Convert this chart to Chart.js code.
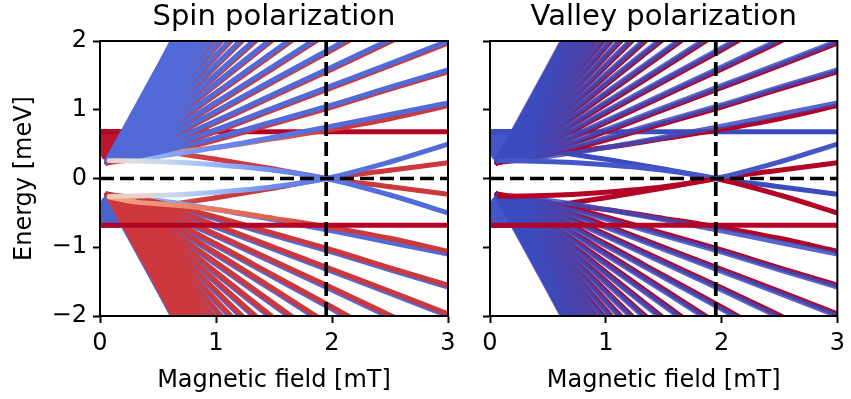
<!DOCTYPE html>
<html><head><meta charset="utf-8">
<script src="https://cdn.jsdelivr.net/npm/chart.js@4.4.1/dist/chart.umd.min.js"></script>
<style>
html,body{margin:0;padding:0;background:#fff;width:851px;height:399px;overflow:hidden}
#wrap{position:relative;width:851px;height:399px}
canvas{position:absolute;top:0}
#cL{left:0}
#cR{left:470px}
</style></head><body>
<div id="wrap"><canvas id="cL" width="470" height="399"></canvas><canvas id="cR" width="381" height="399"></canvas></div>
<script>
// ---------------- DATA ----------------
const panelTitles = ['Spin polarization', 'Valley polarization'];
const xLabel = 'Magnetic field [mT]';
const yLabel = 'Energy [meV]';
const xRange = [0, 3];
const yRange = [-2, 2];

// Landau-fan levels: |E| (meV) sampled at fanB (mT); mirrored branch drawn on a reversed axis
const fanB = [0.06, 0.25, 0.5, 1.0, 1.5, 2.0, 2.5, 3.0];
const fanLevels = [
  [0.26, 0.28, 0.32, 0.45, 0.60, 0.76, 0.93, 1.10],
  [0.26, 0.30, 0.38, 0.59, 0.83, 1.07, 1.33, 1.58],
  [0.26, 0.32, 0.43, 0.71, 1.03, 1.35, 1.67, 2.00],
  [0.26, 0.34, 0.48, 0.84, 1.23, 1.62, 2.02, 2.42],
  [0.26, 0.36, 0.54, 0.98, 1.44, 1.90, 2.37],
  [0.26, 0.38, 0.60, 1.11, 1.64, 2.18],
  [0.26, 0.41, 0.67, 1.25, 1.85, 2.46],
  [0.26, 0.43, 0.73, 1.39, 2.06],
  [0.26, 0.46, 0.80, 1.52, 2.27],
  [0.26, 0.49, 0.86, 1.66, 2.48],
  [0.26, 0.52, 0.93, 1.80, 2.68],
  [0.26, 0.55, 1.00, 1.94, 2.89],
  [0.26, 0.58, 1.07, 2.08],
  [0.26, 0.61, 1.13, 2.22],
  [0.26, 0.64, 1.20, 2.36],
  [0.26, 0.68, 1.27, 2.50],
  [0.26, 0.71, 1.34, 2.63],
  [0.26, 0.74, 1.41, 2.77],
  [0.26, 0.77, 1.48, 2.91],
  [0.26, 0.81, 1.54, 3.05],
  [0.26, 0.84, 1.61, 3.19]
];

// special levels near zero energy
const specB = [0.08, 0.3, 0.6, 1.0, 1.5, 1.95, 2.5, 3.0];
const straightB = [0.3, 0.6, 1.0, 1.5, 1.95, 2.5, 3.0];
const lineA = [0.46, 0.38, 0.28, 0.14, 0.0, -0.12, -0.23];
const lineC = [-0.46, -0.38, -0.28, -0.14, 0.0, 0.12, 0.23];
const lineB = [0.26, 0.255, 0.24, 0.20, 0.12, 0.0, -0.24, -0.50];
const lineD = [-0.26, -0.255, -0.24, -0.20, -0.12, 0.0, 0.24, 0.50];
const n1PartnerUp = [0.27, 0.34, 0.38, 0.45, 0.58, 0.70, 0.87, 1.06];
const n1PartnerDown = [-0.27, -0.34, -0.38, -0.45, -0.58, -0.70, -0.87, -1.06];

// flat levels
const flatB = [0, 3];
const flatUpE = [0.68, 0.68];
const flatDownE = [-0.68, -0.68];

// dense low-field regions (outline)
const blockB = [0, 0.21, 0.06, 0.02, 0];
const blockUpE = [0.72, 0.72, 0.24, 0.29, 0.36];
const blockDownE = [-0.72, -0.72, -0.24, -0.29, -0.36];

// reference lines
const dashVB = [1.95, 1.95];
const dashVE = [-2, 2];
const dashHB = [0, 3];
const dashHE = [0, 0];

// polarization values (-1 .. +1) along lines
const spinPolN1Main = [-0.2, -0.3, -0.5, -0.7, -0.8, -0.85, -0.86, -0.86];
const spinPolN1Partner = [0.45, 0.5, 0.55, 0.65, 0.75, 0.85, 0.86, 0.86];
const spinPolA = [0.7, 0.8, 0.85, 0.86, 0.86, 0.86, 0.86];
const spinPolC = [0.7, 0.8, 0.85, 0.86, 0.86, 0.86, 0.86];
const spinPolB = [0.1, 0.0, -0.15, -0.45, -0.7, -0.8, -0.85, -0.86];
const spinPolD = [0.2, 0.1, -0.1, -0.4, -0.7, -0.8, -0.85, -0.86];
const valleyPolB = [-0.95, -0.95, -0.95, -0.95, -0.95, -0.95, 1, 1];
const valleyPolD = [1, 1, 1, 1, 1, 1, -0.95, -0.95];

// ---------------- STYLE ----------------
const FONT = 'DejaVu Sans';
Chart.defaults.font.family = FONT;
Chart.defaults.color = '#000';
Chart.defaults.animation = false;

const CW = [[59,76,192],[98,130,234],[141,176,254],[184,208,249],[221,221,221],[245,196,173],[244,154,123],[222,96,77],[180,4,38]];
function cw(p, a) {
  if (a === undefined) a = 1;
  let t = (Math.max(-1, Math.min(1, p)) + 1) / 2 * 8;
  const i = Math.min(7, Math.floor(t));
  const f = t - i;
  const c = CW[i].map((v, k) => Math.round(v + (CW[i + 1][k] - v) * f));
  return 'rgba(' + c.join(',') + ',' + a + ')';
}

function ds(xs, ys, yAxisID, pol, o) {
  o = o || {};
  const alpha = o.alpha === undefined ? 1 : o.alpha;
  const d = {
    data: ys.map((y, j) => ({x: xs[j], y: y})),
    yAxisID: yAxisID, showLine: true, pointRadius: 0, pointHoverRadius: 0,
    borderWidth: o.width || 5, borderCapStyle: 'round', borderJoinStyle: 'round',
    fill: false, clip: 0, cubicInterpolationMode: 'monotone', tension: 0
  };
  if (Array.isArray(pol)) {
    d.borderColor = cw(pol[0], alpha);
    d.segment = {
      borderColor: c => {
        const a = pol[c.p0DataIndex], b = pol[c.p1DataIndex];
        if (o.step) return cw(b, alpha);
        const g = c.chart.ctx.createLinearGradient(c.p0.x, c.p0.y, c.p1.x, c.p1.y);
        g.addColorStop(0, cw(a, alpha));
        g.addColorStop(1, cw(b, alpha));
        return g;
      }
    };
  } else {
    d.borderColor = cw(pol, alpha);
  }
  return d;
}
function block(xs, ys, p) {
  return {
    data: ys.map((y, j) => ({x: xs[j], y: y})), yAxisID: 'y',
    showLine: true, pointRadius: 0, borderWidth: 0, borderColor: 'rgba(0,0,0,0)',
    backgroundColor: cw(p), fill: 'shape', tension: 0, clip: 0
  };
}
function dash(xs, ys) {
  return {
    data: ys.map((y, j) => ({x: xs[j], y: y})), yAxisID: 'y',
    showLine: true, pointRadius: 0, borderWidth: 3.7, borderColor: '#000',
    borderDash: [14, 6], borderCapStyle: 'butt', fill: false, tension: 0, clip: 0
  };
}

const styles = [
  { fanMain: -0.86, fanPartner: 0.86, alphaMain: 1, flatUp: 1, flatDown: 1, blockUp: 0.95, blockDown: -0.9,
    n1Main: spinPolN1Main, n1Partner: spinPolN1Partner, A: spinPolA, B: spinPolB, C: spinPolC, D: spinPolD,
    lowerMainsFirst: true, stepBD: false },
  { fanMain: -1, fanPartner: 1, alphaMain: 0.85, flatUp: -1, flatDown: 1, blockUp: -0.95, blockDown: -0.95,
    n1Main: -1, n1Partner: 1, A: -1, B: valleyPolB, C: 1, D: valleyPolD,
    lowerMainsFirst: false, stepBD: true }
];

function buildDatasets(s) {
  const out = [];
  out.push(block(blockB, blockUpE, s.blockUp));
  out.push(block(blockB, blockDownE, s.blockDown));
  out.push(ds(flatB, flatUpE, 'y', s.flatUp));
  // straight levels through the crossing sit beneath the fan
  out.push(ds(straightB, lineA, 'y', s.A));
  out.push(ds(straightB, lineC, 'y', s.C));
  // upper branch: partners then mains
  fanLevels.forEach((lv, i) => { if (i > 0) out.push(ds(fanB, lv, 'yShift', s.fanPartner)); });
  out.push(ds(specB, n1PartnerUp, 'y', s.n1Partner));
  fanLevels.forEach((lv, i) => out.push(ds(fanB, lv, 'y', i === 0 ? s.n1Main : s.fanMain, {alpha: s.alphaMain})));
  // lower branch
  const mains = () => fanLevels.forEach((lv, i) => out.push(ds(fanB, lv, 'yFlip', i === 0 ? s.n1Main : s.fanMain, {alpha: s.alphaMain})));
  const partners = () => {
    fanLevels.forEach((lv, i) => { if (i > 0) out.push(ds(fanB, lv, 'yFlipShift', s.fanPartner)); });
    out.push(ds(specB, n1PartnerDown, 'y', s.n1Partner));
  };
  if (s.lowerMainsFirst) { mains(); partners(); } else { partners(); mains(); }
  // curved levels through the zero-energy crossing
  out.push(ds(specB, lineB, 'y', s.B, {step: s.stepBD}));
  out.push(ds(specB, lineD, 'y', s.D, {step: s.stepBD}));
  out.push(ds(flatB, flatDownE, 'y', s.flatDown));
  out.push(dash(dashHB, dashHE));
  out.push(dash(dashVB, dashVE));
  out.forEach((d, i) => { d.order = -i; });
  return out;
}

const framePlugin = {
  id: 'frame',
  afterDatasetsDraw(chart) {
    const a = chart.chartArea, c = chart.ctx;
    c.save(); c.strokeStyle = '#000'; c.lineWidth = 2;
    c.strokeRect(a.left, a.top, a.right - a.left, a.bottom - a.top);
    c.restore();
  }
};

const fmt = v => v < 0 ? '\u2212' + (-v) : String(v);

function makeChart(id, idx, yWidth, rightPad, showY) {
  const tickFont = {family: FONT, size: 24};
  const labelFont = {family: FONT, size: 24, lineHeight: 1.2};
  const grid = {drawOnChartArea: false, drawTicks: true, tickLength: 7, tickWidth: 2, tickColor: '#000'};
  return new Chart(document.getElementById(id), {
    type: 'scatter',
    data: {datasets: buildDatasets(styles[idx])},
    options: {
      responsive: false, devicePixelRatio: 1, animation: false,
      layout: {padding: {left: 0, right: rightPad, top: 0, bottom: 0}},
      plugins: {
        legend: {display: false}, tooltip: {enabled: false},
        title: {display: true, text: panelTitles[idx], color: '#000', fullSize: false,
          font: {family: FONT, size: 29, weight: 'normal', lineHeight: 1.2}, padding: {top: 0, bottom: 6.2}}
      },
      scales: {
        x: {type: 'linear', position: 'bottom', min: xRange[0], max: xRange[1],
          ticks: {stepSize: 1, font: tickFont, color: '#000', padding: 6, maxRotation: 0, callback: v => fmt(v)},
          grid: grid, border: {display: true, color: '#000', width: 2},
          title: {display: true, text: xLabel, font: labelFont, color: '#000', padding: {top: 0, bottom: 4}},
          afterFit: s => { s.height = 83; }
        },
        y: {type: 'linear', position: 'left', min: yRange[0], max: yRange[1],
          ticks: {stepSize: 1, font: tickFont, color: '#000', padding: 6, callback: v => showY ? fmt(v) : ''},
          grid: grid, border: {display: true, color: '#000', width: 2},
          title: {display: showY, text: yLabel, font: labelFont, color: '#000', padding: {top: 10, bottom: 0}},
          afterFit: s => { s.width = yWidth; }
        },
        yShift: {type: 'linear', display: false, min: -1.97, max: 2.03},
        yFlip: {type: 'linear', display: false, reverse: true, min: -2, max: 2},
        yFlipShift: {type: 'linear', display: false, reverse: true, min: -1.97, max: 2.03}
      }
    },
    plugins: [framePlugin]
  });
}

makeChart('cL', 0, 100, 22, true);
makeChart('cR', 1, 20, 13, false);
</script>
</body></html>
